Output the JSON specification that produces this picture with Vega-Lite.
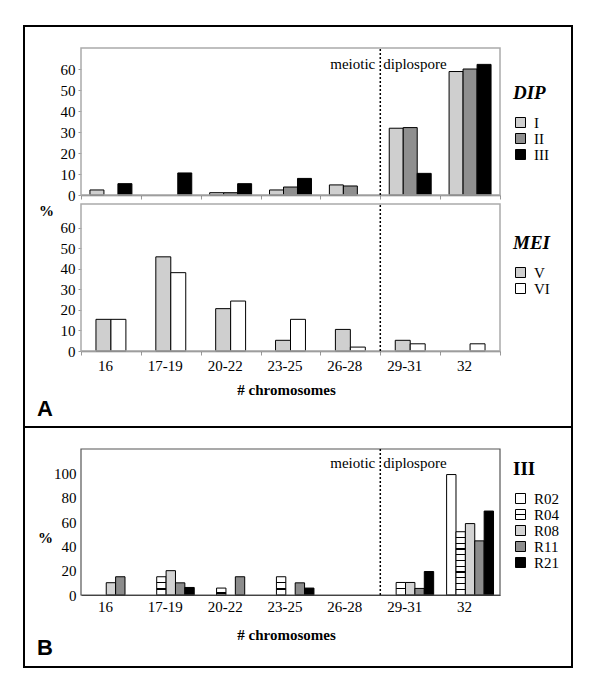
{
  "$schema": "https://vega.github.io/schema/vega-lite/v6.json",
  "padding": {"left": 23, "top": 25, "right": 28, "bottom": 27},
  "background": "white",
  "bounds": "flush",
  "spacing": 0,
  "resolve": {"scale": {"fill": "independent", "xOffset": "independent"}, "legend": {"fill": "independent"}},
  "config": {
    "view": {"stroke": "black", "strokeWidth": 2, "fill": "white"},
    "font": "Liberation Serif, Times New Roman, serif",
    "axis": {"labelFont": "Liberation Serif, Times New Roman, serif", "labelFontSize": 15, "labelColor": "black", "labelAngle": 0, "titleFont": "Liberation Serif, Times New Roman, serif", "titleColor": "black", "grid": false, "tickColor": "#999999", "domainColor": "#888888"},
    "legend": {"padding": 0, "symbolType": "square", "symbolSize": 100, "symbolStrokeColor": "black", "symbolStrokeWidth": 1, "labelFont": "Liberation Serif, Times New Roman, serif", "labelFontSize": 15, "labelColor": "black", "labelOffset": 6, "rowPadding": 0, "titleFont": "Liberation Serif, Times New Roman, serif", "titleFontSize": 19, "titleFontWeight": "bold", "titleColor": "black", "titlePadding": 12, "titleBaseline": "top"}
  },
  "datasets": {
    "dip": [
      {"cat": "16", "s": "I", "v": 2.4}, {"cat": "16", "s": "III", "v": 5.4},
      {"cat": "17-19", "s": "III", "v": 10.5},
      {"cat": "20-22", "s": "I", "v": 1.1}, {"cat": "20-22", "s": "II", "v": 1.1}, {"cat": "20-22", "s": "III", "v": 5.4},
      {"cat": "23-25", "s": "I", "v": 2.4}, {"cat": "23-25", "s": "II", "v": 3.8}, {"cat": "23-25", "s": "III", "v": 7.9},
      {"cat": "26-28", "s": "I", "v": 4.8}, {"cat": "26-28", "s": "II", "v": 4.3},
      {"cat": "29-31", "s": "I", "v": 31.8}, {"cat": "29-31", "s": "II", "v": 32.1}, {"cat": "29-31", "s": "III", "v": 10.3},
      {"cat": "32", "s": "I", "v": 58.8}, {"cat": "32", "s": "II", "v": 60}, {"cat": "32", "s": "III", "v": 62.2}
    ],
    "mei": [
      {"cat": "16", "s": "V", "v": 15.4}, {"cat": "16", "s": "VI", "v": 15.4},
      {"cat": "17-19", "s": "V", "v": 45.8}, {"cat": "17-19", "s": "VI", "v": 38.1},
      {"cat": "20-22", "s": "V", "v": 20.6}, {"cat": "20-22", "s": "VI", "v": 24.3},
      {"cat": "23-25", "s": "V", "v": 5.2}, {"cat": "23-25", "s": "VI", "v": 15.4},
      {"cat": "26-28", "s": "V", "v": 10.5}, {"cat": "26-28", "s": "VI", "v": 1.9},
      {"cat": "29-31", "s": "V", "v": 5.2}, {"cat": "29-31", "s": "VI", "v": 3.5},
      {"cat": "32", "s": "VI", "v": 3.5}
    ],
    "rr": [
      {"cat": "16", "s": "R08", "v": 10.1}, {"cat": "16", "s": "R11", "v": 15},
      {"cat": "17-19", "s": "R04", "v": 15}, {"cat": "17-19", "s": "R08", "v": 20}, {"cat": "17-19", "s": "R11", "v": 10}, {"cat": "17-19", "s": "R21", "v": 6.2},
      {"cat": "20-22", "s": "R04", "v": 5.7}, {"cat": "20-22", "s": "R11", "v": 15},
      {"cat": "23-25", "s": "R04", "v": 15}, {"cat": "23-25", "s": "R11", "v": 10}, {"cat": "23-25", "s": "R21", "v": 5.7},
      {"cat": "29-31", "s": "R04", "v": 10.3}, {"cat": "29-31", "s": "R08", "v": 10.3}, {"cat": "29-31", "s": "R11", "v": 5.4}, {"cat": "29-31", "s": "R21", "v": 19.3},
      {"cat": "32", "s": "R02", "v": 99}, {"cat": "32", "s": "R04", "v": 52}, {"cat": "32", "s": "R08", "v": 58.7}, {"cat": "32", "s": "R11", "v": 44.5}, {"cat": "32", "s": "R21", "v": 69}
    ]
  },
  "vconcat": [
    {
      "width": 548,
      "height": 401,
      "title": {"text": "A", "orient": "bottom", "anchor": "start", "frame": "group", "offset": -11, "dx": 13, "font": "Liberation Sans", "fontSize": 22, "fontWeight": "bold", "baseline": "alphabetic", "color": "black"},
      "resolve": {"scale": {"y": "independent", "xOffset": "independent", "fill": "independent"}, "axis": {"x": "independent", "y": "independent"}, "legend": {"fill": "independent"}},
      "layer": [
        {
          "layer": [
            {
              "data": {"name": "dip"},
              "mark": {"type": "bar", "stroke": "black", "strokeWidth": 1},
              "encoding": {
                "x": {"field": "cat", "type": "nominal", "scale": {"domain": ["16", "17-19", "20-22", "23-25", "26-28", "29-31", "32"], "range": [57, 476], "paddingInner": 0, "paddingOuter": 0},
                  "axis": {"orient": "bottom", "offset": -232, "labels": false, "title": null, "tickBand": "extent", "tickSize": 4, "domainColor": "#777777", "domainWidth": 1.5}},
                "xOffset": {"field": "s", "type": "nominal", "scale": {"domain": ["I", "II", "III"], "paddingInner": 0, "paddingOuter": 0.64}},
                "y": {"field": "v", "type": "quantitative", "scale": {"domain": [0, 70], "range": [169, 22], "nice": false},
                  "axis": {"orient": "left", "offset": -57, "values": [0, 10, 20, 30, 40, 50, 60], "domain": false, "tickSize": 3, "labelPadding": 3, "title": "%", "titleAngle": 0, "titleX": -35, "titleY": 184, "titleFontWeight": "bold", "titleFontSize": 15, "titleAlign": "center", "titleBaseline": "middle"}},
                "fill": {"field": "s", "type": "nominal", "scale": {"domain": ["I", "II", "III"], "range": ["#cfcfcf", "#8f8f8f", "#000000"]},
                  "legend": {"title": "DIP", "orient": "none", "legendX": 489, "legendY": 58, "titleFontStyle": "italic"}}
              }
            },
            {
              "data": {"values": [{}]},
              "mark": {"type": "rect", "fill": null, "stroke": "#aaaaaa", "strokeWidth": 1.5},
              "encoding": {
                "x": {"datum": "16", "type": "nominal", "bandPosition": 0},
                "x2": {"datum": "32", "bandPosition": 1},
                "y": {"datum": 0, "type": "quantitative"},
                "y2": {"datum": 70}
              }
            },
            {
              "data": {"values": [{}]},
              "mark": {"type": "rule", "strokeDash": [2, 2], "strokeWidth": 1.5, "color": "black"},
              "encoding": {
                "x": {"datum": "29-31", "type": "nominal", "bandPosition": 0},
                "y": {"datum": 0, "type": "quantitative"},
                "y2": {"datum": 70}
              }
            },
            {
              "data": {"values": [{"label": "meiotic"}]},
              "mark": {"type": "text", "align": "right", "baseline": "middle", "dx": -5, "fontSize": 15, "font": "Liberation Serif, Times New Roman, serif", "color": "black"},
              "encoding": {
                "x": {"datum": "29-31", "type": "nominal", "bandPosition": 0},
                "y": {"datum": 62.5, "type": "quantitative"},
                "text": {"field": "label"}
              }
            },
            {
              "data": {"values": [{"label": "diplospore"}]},
              "mark": {"type": "text", "align": "left", "baseline": "middle", "dx": 3, "fontSize": 15, "font": "Liberation Serif, Times New Roman, serif", "color": "black"},
              "encoding": {
                "x": {"datum": "29-31", "type": "nominal", "bandPosition": 0},
                "y": {"datum": 62.5, "type": "quantitative"},
                "text": {"field": "label"}
              }
            }
          ]
        },
        {
          "layer": [
            {
              "data": {"name": "mei"},
              "mark": {"type": "bar", "stroke": "black", "strokeWidth": 1},
              "encoding": {
                "x": {"field": "cat", "type": "nominal",
                  "axis": {"orient": "bottom", "offset": -76, "labels": true, "labelAngle": 0, "labelOffset": -6, "labelPadding": 3, "tickBand": "extent", "tickSize": 4, "domainColor": "#777777", "domainWidth": 1.5,
                    "title": "# chromosomes", "titleFontWeight": "bold", "titleFontSize": 15, "titleX": 262, "titleY": 38, "titleBaseline": "middle"}},
                "xOffset": {"field": "s", "type": "nominal", "scale": {"domain": ["V", "VI"], "paddingInner": 0, "paddingOuter": 1.14}},
                "y": {"field": "v", "type": "quantitative", "scale": {"domain": [0, 71.5], "range": [325, 178], "nice": false},
                  "axis": {"orient": "left", "offset": -57, "values": [0, 10, 20, 30, 40, 50, 60], "domain": false, "tickSize": 3, "labelPadding": 3, "title": null}},
                "fill": {"field": "s", "type": "nominal", "scale": {"domain": ["V", "VI"], "range": ["#cfcfcf", "#ffffff"]},
                  "legend": {"title": "MEI", "orient": "none", "legendX": 489, "legendY": 208, "titleFontStyle": "italic"}}
              }
            },
            {
              "data": {"values": [{}]},
              "mark": {"type": "rect", "fill": null, "stroke": "#aaaaaa", "strokeWidth": 1.5},
              "encoding": {
                "x": {"datum": "16", "type": "nominal", "bandPosition": 0},
                "x2": {"datum": "32", "bandPosition": 1},
                "y": {"datum": 0, "type": "quantitative"},
                "y2": {"datum": 71.5}
              }
            },
            {
              "data": {"values": [{}]},
              "mark": {"type": "rule", "strokeDash": [2, 2], "strokeWidth": 1.5, "color": "black"},
              "encoding": {
                "x": {"datum": "29-31", "type": "nominal", "bandPosition": 0},
                "y": {"datum": 0, "type": "quantitative"},
                "y2": {"datum": 71.5}
              }
            }
          ]
        }
      ]
    },
    {
      "width": 548,
      "height": 240,
      "title": {"text": "B", "orient": "bottom", "anchor": "start", "frame": "group", "offset": -12, "dx": 13, "font": "Liberation Sans", "fontSize": 22, "fontWeight": "bold", "baseline": "alphabetic", "color": "black"},
      "layer": [
        {
          "data": {"name": "rr"},
          "mark": {"type": "bar", "stroke": "black", "strokeWidth": 1},
          "encoding": {
            "x": {"field": "cat", "type": "nominal", "scale": {"domain": ["16", "17-19", "20-22", "23-25", "26-28", "29-31", "32"], "range": [57, 476], "paddingInner": 0, "paddingOuter": 0},
              "axis": {"orient": "bottom", "offset": -72, "labels": true, "labelAngle": 0, "labelOffset": -6, "labelPadding": 4, "tickBand": "extent", "tickSize": 0, "domainColor": "#333333", "domainWidth": 1.2,
                "title": "# chromosomes", "titleFontWeight": "bold", "titleFontSize": 15, "titleX": 262, "titleY": 39, "titleBaseline": "middle"}},
            "xOffset": {"field": "s", "type": "nominal", "scale": {"domain": ["R02", "R04", "R08", "R11", "R21"], "paddingInner": 0, "paddingOuter": 0.69}},
            "y": {"field": "v", "type": "quantitative", "scale": {"domain": [0, 120], "range": [168, 22], "nice": false},
              "axis": {"orient": "left", "offset": -57, "values": [0, 20, 40, 60, 80, 100], "domain": false, "tickSize": 0, "labelPadding": 5, "title": "%", "titleAngle": 0, "titleX": -36, "titleY": 110, "titleFontWeight": "bold", "titleFontSize": 15, "titleAlign": "center", "titleBaseline": "middle"}},
            "fill": {"field": "s", "type": "nominal", "scale": {"domain": ["R02", "R04", "R08", "R11", "R21"], "range": ["#ffffff", "#ffffff", "#d3d3d3", "#8c8c8c", "#000000"]},
              "legend": {"title": "III", "orient": "none", "legendX": 489, "legendY": 33, "titleFontStyle": "normal",
                "encode": {"symbols": {"update": {
                  "stroke": {"value": "#000000"},
                  "strokeWidth": {"value": 1},
                  "opacity": {"value": 1},
                  "shape": [
                    {"test": "datum.value === 'R04'", "value": "M-1,-1H1V1H-1ZM-1,0H1"},
                    {"value": "square"}
                  ]
                }}}},
              "condition": [
                {"test": "datum.s === 'R04' && datum.cat === '32'", "value": {"gradient": "linear", "x1": 0, "y1": 0, "x2": 0, "y2": 1, "stops": [
                  {"offset": 0, "color": "#ffffff"},
                  {"offset": 0.0814, "color": "#ffffff"}, {"offset": 0.0814, "color": "#000000"}, {"offset": 0.1004, "color": "#000000"}, {"offset": 0.1004, "color": "#ffffff"},
                  {"offset": 0.1723, "color": "#ffffff"}, {"offset": 0.1723, "color": "#000000"}, {"offset": 0.1913, "color": "#000000"}, {"offset": 0.1913, "color": "#ffffff"},
                  {"offset": 0.2632, "color": "#ffffff"}, {"offset": 0.2632, "color": "#000000"}, {"offset": 0.2822, "color": "#000000"}, {"offset": 0.2822, "color": "#ffffff"},
                  {"offset": 0.3541, "color": "#ffffff"}, {"offset": 0.3541, "color": "#000000"}, {"offset": 0.3731, "color": "#000000"}, {"offset": 0.3731, "color": "#ffffff"},
                  {"offset": 0.4450, "color": "#ffffff"}, {"offset": 0.4450, "color": "#000000"}, {"offset": 0.4640, "color": "#000000"}, {"offset": 0.4640, "color": "#ffffff"},
                  {"offset": 0.5360, "color": "#ffffff"}, {"offset": 0.5360, "color": "#000000"}, {"offset": 0.5550, "color": "#000000"}, {"offset": 0.5550, "color": "#ffffff"},
                  {"offset": 0.6269, "color": "#ffffff"}, {"offset": 0.6269, "color": "#000000"}, {"offset": 0.6459, "color": "#000000"}, {"offset": 0.6459, "color": "#ffffff"},
                  {"offset": 0.7178, "color": "#ffffff"}, {"offset": 0.7178, "color": "#000000"}, {"offset": 0.7368, "color": "#000000"}, {"offset": 0.7368, "color": "#ffffff"},
                  {"offset": 0.8087, "color": "#ffffff"}, {"offset": 0.8087, "color": "#000000"}, {"offset": 0.8277, "color": "#000000"}, {"offset": 0.8277, "color": "#ffffff"},
                  {"offset": 0.8996, "color": "#ffffff"}, {"offset": 0.8996, "color": "#000000"}, {"offset": 0.9186, "color": "#000000"}, {"offset": 0.9186, "color": "#ffffff"},
                  {"offset": 1, "color": "#ffffff"}]}},
                {"test": "datum.s === 'R04' && datum.cat === '29-31'", "value": {"gradient": "linear", "x1": 0, "y1": 0, "x2": 0, "y2": 1, "stops": [
                  {"offset": 0, "color": "#ffffff"}, {"offset": 0.452, "color": "#ffffff"}, {"offset": 0.452, "color": "#000000"}, {"offset": 0.548, "color": "#000000"}, {"offset": 0.548, "color": "#ffffff"}, {"offset": 1, "color": "#ffffff"}]}},
                {"test": "datum.s === 'R04' && datum.cat === '20-22'", "value": {"gradient": "linear", "x1": 0, "y1": 0, "x2": 0, "y2": 1, "stops": [
                  {"offset": 0, "color": "#ffffff"}, {"offset": 0.62, "color": "#ffffff"}, {"offset": 0.62, "color": "#000000"}, {"offset": 0.79, "color": "#000000"}, {"offset": 0.79, "color": "#ffffff"}, {"offset": 1, "color": "#ffffff"}]}},
                {"test": "datum.s === 'R04' && (datum.cat === '17-19' || datum.cat === '23-25')", "value": {"gradient": "linear", "x1": 0, "y1": 0, "x2": 0, "y2": 1, "stops": [
                  {"offset": 0, "color": "#ffffff"}, {"offset": 0.3003, "color": "#ffffff"}, {"offset": 0.3003, "color": "#000000"}, {"offset": 0.3663, "color": "#000000"}, {"offset": 0.3663, "color": "#ffffff"},
                  {"offset": 0.6337, "color": "#ffffff"}, {"offset": 0.6337, "color": "#000000"}, {"offset": 0.6997, "color": "#000000"}, {"offset": 0.6997, "color": "#ffffff"}, {"offset": 1, "color": "#ffffff"}]}}
              ]
            }
          }
        },
        {
          "data": {"values": [{}]},
          "mark": {"type": "rect", "fill": null, "stroke": "#555555", "strokeWidth": 1.2},
          "encoding": {
            "x": {"datum": "16", "type": "nominal", "bandPosition": 0},
            "x2": {"datum": "32", "bandPosition": 1},
            "y": {"datum": 0, "type": "quantitative"},
            "y2": {"datum": 120}
          }
        },
        {
          "data": {"values": [{}]},
          "mark": {"type": "rule", "strokeDash": [2, 2], "strokeWidth": 1.5, "color": "black"},
          "encoding": {
            "x": {"datum": "29-31", "type": "nominal", "bandPosition": 0},
            "y": {"datum": 0, "type": "quantitative"},
            "y2": {"datum": 120}
          }
        },
        {
          "data": {"values": [{"label": "meiotic"}]},
          "mark": {"type": "text", "align": "right", "baseline": "middle", "dx": -5, "fontSize": 15, "font": "Liberation Serif, Times New Roman, serif", "color": "black"},
          "encoding": {
            "x": {"datum": "29-31", "type": "nominal", "bandPosition": 0},
            "y": {"datum": 108.7, "type": "quantitative"},
            "text": {"field": "label"}
          }
        },
        {
          "data": {"values": [{"label": "diplospore"}]},
          "mark": {"type": "text", "align": "left", "baseline": "middle", "dx": 3, "fontSize": 15, "font": "Liberation Serif, Times New Roman, serif", "color": "black"},
          "encoding": {
            "x": {"datum": "29-31", "type": "nominal", "bandPosition": 0},
            "y": {"datum": 108.7, "type": "quantitative"},
            "text": {"field": "label"}
          }
        }
      ]
    }
  ]
}
